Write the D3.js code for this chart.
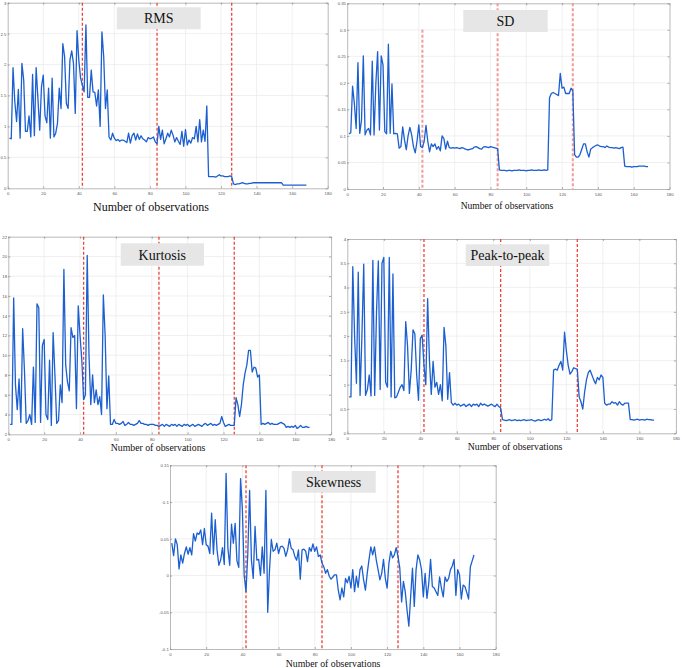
<!DOCTYPE html>
<html><head><meta charset="utf-8">
<script src="https://cdn.jsdelivr.net/npm/d3@7/dist/d3.min.js"></script>
<style>body{margin:0;background:#fff}svg{display:block}</style>
</head><body>
<svg id="chart" width="685" height="668"></svg>
<script>
// ---------- DATA ----------
const observations = d3.range(1, 169); // observation numbers 1..168
const xTicks = [0, 20, 40, 60, 80, 100, 120, 140, 160, 180];
const changePoints = [42, 84, 126];

const rmsTicks = [0, 0.5, 1, 1.5, 2, 2.5, 3];
const sdTicks = [0, 0.05, 0.1, 0.15, 0.2, 0.25, 0.3, 0.35];
const kurtosisTicks = [2, 4, 6, 8, 10, 12, 14, 16, 18, 20, 22];
const p2pTicks = [0, 0.5, 1, 1.5, 2, 2.5, 3, 3.5, 4];
const skewTicks = [-0.1, -0.05, 0, 0.05, 0.1, 0.15];

const rmsValues = [
 0.81,0.80,1.95,1.40,1.08,1.60,0.81,2.02,1.75,0.92,0.92,1.17,0.83,1.84,0.85,1.95,1.45,0.94,1.64,1.83,
 1.17,1.06,1.62,0.81,1.78,0.83,0.89,1.05,1.62,1.29,2.34,2.13,1.37,1.29,2.07,2.22,2.02,1.21,2.55,2.07,
 1.78,1.67,1.56,2.64,1.47,1.47,1.91,1.56,1.55,1.33,1.59,1.00,2.53,2.13,1.29,1.59,0.83,0.78,0.89,0.81,
 0.77,0.79,0.76,0.78,
 0.78,0.76,0.74,0.89,0.73,0.85,0.89,0.78,0.88,0.79,0.85,0.80,0.78,0.75,0.82,0.80,0.81,0.83,0.75,0.72,
 1.00,0.79,0.94,0.72,0.80,0.89,0.83,0.94,0.86,0.75,0.82,0.76,0.71,0.92,0.68,0.95,0.70,0.78,0.73,0.82,
 0.80,1.00,0.75,1.11,0.75,0.94,0.76,1.33,
 0.19,0.19,0.19,0.19,0.18,0.20,0.22,0.20,0.20,0.19,0.19,0.19,0.20,0.19,
 0.07,0.06,0.07,0.07,0.08,0.09,0.08,0.07,0.07,0.08,0.08,0.09,0.09,0.09,0.09,0.09,0.09,0.09,0.09,0.09,
 0.09,0.09,0.09,0.09,0.09,0.09,0.09,0.09,0.05,0.05,0.05,0.05,0.05,0.05,0.05,0.05,0.05,0.05,0.05,0.05,
 0.05,0.05
];

const sdValues = [
 0.104,0.106,0.194,0.161,0.114,0.238,0.105,0.13,0.251,0.102,0.111,0.114,0.102,0.241,0.102,0.199,0.259,0.111,0.251,0.234,
 0.108,0.104,0.273,0.105,0.198,0.104,0.105,0.104,0.077,0.08,0.117,0.092,0.074,0.1,0.116,0.102,0.08,0.068,0.09,0.121,
 0.08,0.078,0.09,0.12,0.09,0.07,0.085,0.08,0.085,0.075,0.08,0.072,0.1,0.095,0.075,0.09,0.078,
 0.077,0.078,0.077,0.078,0.077,0.076,0.078,0.077,0.075,0.074,0.074,0.075,0.076,0.079,0.08,0.078,0.076,0.075,0.079,0.08,
 0.079,0.078,0.08,0.079,0.078,0.077,0.076,
 0.036,0.035,0.035,0.035,0.034,0.035,0.035,0.034,0.035,0.035,0.035,0.036,0.035,0.035,0.035,0.034,0.035,0.035,0.036,0.035,
 0.035,0.035,0.036,0.035,0.035,0.036,0.035,0.036,
 0.172,0.18,0.182,0.18,0.178,0.176,0.218,0.19,0.192,0.18,0.18,0.18,0.19,0.185,
 0.065,0.06,0.06,0.065,0.075,0.085,0.085,0.07,0.06,0.075,0.078,0.08,0.082,0.083,0.081,0.08,0.08,0.078,0.081,0.079,
 0.078,0.078,0.077,0.078,0.077,0.076,0.078,0.079,
 0.043,0.042,0.042,0.042,0.041,0.042,0.042,0.042,0.043,0.043,0.043,0.043,0.042,0.042
];

const kurtosisValues = [
 3.0,3.0,15.8,7.0,4.5,7.6,3.2,12.7,8.5,3.1,3.4,4.0,3.0,8.8,3.2,15.2,14.8,3.2,11.0,11.6,
 4.0,3.5,9.5,2.9,12.3,8.0,3.1,3.4,7.0,5.2,18.7,9.0,7.3,6.4,12.8,11.8,12.0,4.6,15.0,12.0,
 9.5,5.5,6.0,20.1,10.0,5.0,8.0,5.2,6.5,5.0,5.8,4.0,16.1,12.0,4.6,7.9,
 3.0,3.0,3.5,3.1,3.1,3.0,3.1,3.3,2.9,3.0,3.2,3.0,3.0,2.9,3.0,3.1,3.4,3.1,3.1,3.0,
 3.0,2.9,3.0,3.0,3.0,2.9,2.9,2.8,2.9,3.0,2.8,3.0,2.9,2.8,3.0,2.9,3.0,2.8,3.0,2.9,
 2.8,3.0,2.9,3.0,2.8,2.9,3.0,2.8,2.9,3.0,2.9,2.8,3.0,3.1,2.9,3.0,3.1,2.9,3.0,2.9,
 3.0,3.1,3.8,3.2,2.8,2.9,3.0,2.9,2.9,2.9,
 5.7,5.0,3.8,5.0,7.0,8.2,9.0,10.5,10.5,8.3,8.8,8.7,7.8,8.0,
 3.0,3.1,3.0,3.1,3.2,3.0,3.1,3.0,3.0,3.0,3.1,3.2,3.1,3.0,2.7,2.8,2.7,2.8,2.7,2.9,
 2.6,2.7,2.9,2.7,2.7,2.8,2.7,2.7
];

const p2pValues = [
 0.75,0.75,3.43,2.0,1.03,3.32,0.78,2.0,3.48,0.78,0.9,1.2,0.77,3.56,0.78,2.5,3.55,0.9,3.5,3.62,
 1.05,0.95,3.62,0.75,3.28,0.73,0.75,0.85,0.95,1.0,0.88,2.3,1.8,0.82,1.3,2.13,2.05,1.2,0.68,1.95,
 2.02,1.4,1.0,2.77,1.5,0.8,1.48,0.95,1.05,0.8,1.0,0.67,2.18,1.8,0.7,1.25,
 0.63,0.58,0.62,0.58,0.6,0.56,0.58,0.6,0.55,0.58,0.6,0.55,0.6,0.58,0.6,0.55,0.62,0.58,0.6,0.58,
 0.56,0.58,0.6,0.57,0.55,0.6,0.55,0.52,
 0.28,0.27,0.26,0.27,0.28,0.26,0.27,0.28,0.26,0.27,0.26,0.27,0.28,0.26,0.27,0.27,0.28,0.26,0.25,0.27,
 0.28,0.26,0.27,0.29,0.27,0.3,0.26,0.28,
 1.3,1.32,1.3,1.4,1.48,1.3,2.08,1.7,1.4,1.22,1.27,1.35,1.33,1.32,
 0.75,0.65,0.5,0.85,1.1,1.25,1.3,1.2,1.1,1.02,1.15,1.1,1.2,1.15,
 0.62,0.58,0.6,0.6,0.65,0.62,0.63,0.58,0.65,0.6,0.58,0.62,0.62,0.62,
 0.28,0.28,0.27,0.28,0.29,0.27,0.28,0.28,0.27,0.29,0.28,0.28,0.27,0.27
];

const skewValues = [
 0.044,0.027,0.05,0.042,0.009,0.028,0.017,0.03,0.039,0.029,0.038,0.028,0.057,0.047,0.058,0.056,0.062,0.042,0.064,0.042,
 0.04,0.03,0.085,0.029,0.076,0.035,0.014,0.021,0.038,0.015,0.139,0.037,0.014,0.07,0.044,0.071,0.02,0.011,0.132,0.09,
 0.0,-0.022,0.03,0.116,0.021,-0.004,0.067,0.021,0.022,0.0,0.039,0.003,0.116,-0.05,0.008,0.049,0.033,0.035,0.044,0.03,
 0.039,0.04,0.037,0.026,0.035,0.05,0.037,0.035,0.026,0.021,0.035,-0.005,0.035,0.036,0.033,0.019,0.038,0.033,0.043,0.033,
 0.039,0.026,0.028,0.017,0.012,0.003,0.008,-0.001,-0.005,-0.002,0.001,0.001,-0.02,-0.033,-0.017,-0.029,-0.004,-0.01,-0.001,-0.017,
 0.008,-0.022,-0.001,-0.016,0.008,0.013,-0.006,-0.02,0.003,0.022,0.039,0.028,0.039,0.021,0.008,-0.006,0.003,0.022,-0.004,-0.017,
 0.017,0.033,0.024,0.028,0.038,0.026,0.01,-0.036,-0.008,-0.022,-0.047,-0.069,-0.029,0.01,-0.042,0.008,0.028,0.021,0.008,-0.029,
 0.003,-0.031,-0.011,0.022,-0.015,-0.017,-0.022,-0.027,-0.002,-0.017,-0.029,-0.002,-0.008,-0.004,0.008,0.013,0.022,-0.027,0.008,0.001,
 -0.032,-0.013,-0.015,-0.023,-0.032,0.012,0.02,0.028
];

// ---------- LAYOUT ----------
const panels = [
  {title:"RMS", values:rmsValues, yDomain:[0,3], yTicks:rmsTicks,
   l:7.7, r:327.7, t:2.7, b:188.3, tb:[116.7,7.3,84,22], xl:[151,211,12], red:"#e8463c", redW:1.3},
  {title:"SD", values:sdValues, yDomain:[0,0.35], yTicks:sdTicks,
   l:347.2, r:669.5, t:3.3, b:189, tb:[463.3,10,84.4,22], xl:[507,208.5,9.6], red:"#f29a9a", redW:2, firstTop:0.3},
  {title:"Kurtosis", values:kurtosisValues, yDomain:[2,22], yTicks:kurtosisTicks,
   l:8.3, r:331.1, t:236.7, b:434.3, tb:[120.7,243.3,83.3,22.4], xl:[158,451,9.8], red:"#e8463c", redW:1.3},
  {title:"Peak-to-peak", values:p2pValues, yDomain:[0,4], yTicks:p2pTicks,
   l:347.3, r:675.9, t:239, b:433.3, tb:[465.7,244.3,83.6,21.7], xl:[515,449.5,9.8], red:"#e8463c", redW:1.3},
  {title:"Skewness", values:skewValues, yDomain:[-0.1,0.15], yTicks:skewTicks,
   l:170, r:495.7, t:465.3, b:649, tb:[291.7,471,84,21.7], xl:[333,667,9.8], red:"#ee5a52", redW:1.5}
];

const svg = d3.select("#chart");
const fmt = d => String(+d.toFixed(2));
const serif = "'Liberation Serif', 'Times New Roman', serif";

panels.forEach(p => {
  const g = svg.append("g");
  const x = d3.scaleLinear().domain([0,180]).range([p.l, p.r]);
  const y = d3.scaleLinear().domain(p.yDomain).range([p.b, p.t]);

  g.append("rect").attr("x",p.l).attr("y",p.t).attr("width",p.r-p.l).attr("height",p.b-p.t)
    .attr("fill","#fff");

  // grid
  g.append("g").selectAll("line").data(xTicks.slice(1,-1)).join("line")
    .attr("x1",d=>x(d)).attr("x2",d=>x(d)).attr("y1",p.t).attr("y2",p.b)
    .attr("stroke","#e9e9e9").attr("stroke-width",0.7);
  g.append("g").selectAll("line").data(p.yTicks.slice(1,-1)).join("line")
    .attr("y1",d=>y(d)).attr("y2",d=>y(d)).attr("x1",p.l).attr("x2",p.r)
    .attr("stroke","#e9e9e9").attr("stroke-width",0.7);

  // axes (ticks inside, MATLAB style)
  const axB = d3.axisBottom(x).tickValues(xTicks).tickSizeInner(-2).tickSizeOuter(0).tickFormat(fmt).tickPadding(4);
  const axT = d3.axisTop(x).tickValues(xTicks).tickSizeInner(-2).tickSizeOuter(0).tickFormat("");
  const axL = d3.axisLeft(y).tickValues(p.yTicks).tickSizeInner(-2).tickSizeOuter(0).tickFormat(fmt).tickPadding(1.2);
  const axR = d3.axisRight(y).tickValues(p.yTicks).tickSizeInner(-2).tickSizeOuter(0).tickFormat("");
  [[axB,`translate(0,${p.b})`],[axT,`translate(0,${p.t})`],[axL,`translate(${p.l},0)`],[axR,`translate(${p.r},0)`]]
    .forEach(([ax,tr]) => {
      const a = g.append("g").attr("transform",tr).call(ax);
      a.select(".domain").attr("stroke","#a8a8a8").attr("stroke-width",0.8);
      a.selectAll(".tick line").attr("stroke","#777").attr("stroke-width",0.6);
      a.selectAll(".tick text").attr("font-family","'Liberation Sans', Arial, sans-serif")
        .attr("font-size",4.3).attr("fill","#555");
    });

  // change-point lines
  g.append("g").selectAll("line").data(changePoints).join("line")
    .attr("x1",d=>x(d)).attr("x2",d=>x(d))
    .attr("y1",(d,i)=> (i===0 && p.firstTop!==undefined) ? y(p.firstTop) : p.t)
    .attr("y2",p.b)
    .attr("stroke",p.red).attr("stroke-width",p.redW).attr("stroke-dasharray","3,2");

  // series line
  const line = d3.line().x((d,i)=>x(observations[i])).y(d=>y(d));
  g.append("path").datum(p.values).attr("d",line).attr("fill","none")
    .attr("stroke","#1c5fd0").attr("stroke-width",1.3).attr("stroke-linejoin","round");

  // title box
  g.append("rect").attr("x",p.tb[0]).attr("y",p.tb[1]).attr("width",p.tb[2]).attr("height",p.tb[3])
    .attr("fill","#e6e6e6");
  g.append("text").attr("x",p.tb[0]+p.tb[2]/2).attr("y",p.tb[1]+p.tb[3]/2+5)
    .attr("text-anchor","middle").attr("font-family",serif)
    .attr("font-size",14).attr("fill","#111").text(p.title);

  // x label
  g.append("text").attr("x",p.xl[0]).attr("y",p.xl[1]).attr("text-anchor","middle")
    .attr("font-family",serif).attr("font-size",p.xl[2])
    .attr("fill","#111").text("Number of observations");
});
</script>
</body></html>
